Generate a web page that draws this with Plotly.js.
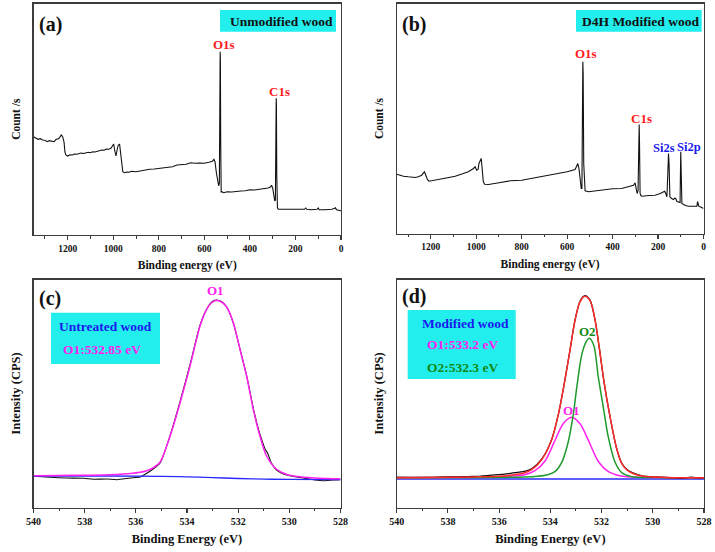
<!DOCTYPE html>
<html>
<head>
<meta charset="utf-8">
<script src="https://cdn.plot.ly/plotly-3.0.1.min.js"></script>
<style>html,body{margin:0;padding:0;background:#fff;}#chart{width:715px;height:552px;}</style>
</head>
<body>
<div id="chart"></div>
<script>
// ---------- Panel (a): survey, unmodified wood ----------
const surveyA_eV = [1350,1340,1330,1320,1310,1300,1290,1280,1270,1260,1250,1240,1235,1228,1222,1216,1212,1208,1200,1190,1180,1170,1160,1150,1140,1130,1120,1110,1100,1090,1080,1070,1060,1050,1040,1030,1020,1010,1003,998,993,988,983,978,972,968,963,958,950,940,930,920,900,880,860,840,820,800,780,760,740,720,700,680,660,640,620,600,580,565,558,553,547,541,537,534,532,530.5,529.5,528,526,523,515,500,480,460,440,420,400,380,360,340,320,310,305,300,295,291,288,286,284.5,283.5,282,279,275,260,240,220,200,180,160,155,150,130,105,100,96,70,40,28,24,20,10,0];
const surveyA_cps = [98.3,97,95.7,96.3,95,94.7,93.3,94.3,94,93.3,95.7,96.3,97.7,100,98.3,93,83,80,79,80.3,80,81,80.7,81,82,81.5,82,82.7,82.3,83.3,83,83.7,84.7,85,84.7,86,85.7,86.7,89.3,91,84,79,85,90,90.7,82,68,63.3,62.3,63,62.7,63.7,63.3,64.3,65,65.7,66,66.7,67.3,68,68.3,70,70,70.7,72.3,71.7,72,71.7,72.7,73.7,75.7,73,62,51,49,52,110,183.3,175,90,43,43.3,42.3,43.3,43,43.7,44,44.3,45.3,45,45.7,46,47,48,49.7,47,40,34,35,100,136.7,130,60,27,25.7,25.7,25.7,25.3,25.7,25.3,25.7,27,25.7,25.3,25.7,27,25.3,25.3,25.7,26.7,27.3,25.3,25,24.3];

// ---------- Panel (b): survey, D4H modified wood ----------
const surveyB_eV = [1350,1320,1299,1280,1269,1255,1240,1232,1228,1222,1215,1208,1195,1181,1150,1120,1093,1060,1035,1012,1005,998,992,988,982,978,974,969,963,946,900,850,800,750,700,653,600,565,558,553,548,542,538,535,532.5,531,529.5,527,523,521,506,450,400,360,330,308,301,296,292,288,285,283,281.5,279,275,271,240,213,190,176,171,166,161,157,154,151.5,148,140,132,127,122,117,113,106,103,101.5,100,98,95,80,66,40,29,26,23,21,10,0];
const surveyB_cps = [59.3,57.3,56.7,56,56,56.7,58.3,60.7,61.7,58.3,54,52.3,52.7,53.3,54.7,56,57.3,59.7,61.7,65,66.7,63.3,64,70,73.3,75,65,52,49.3,49,50.7,52.7,53.3,55.3,57.3,59.3,61.7,64,68,70,65,50,45,45,120,171.7,160,70,44,42.7,41.7,43.3,44.7,45,46.7,48.3,50.7,45,40,43,100,109,90,40,37.7,37.3,38,38.3,40,41.7,42.3,40,36.7,60,80,70,36.7,35,34,35.3,35,32,31.7,30.7,31,60,81.7,60,30,28,27.3,27.3,27.3,32,28.7,27.3,26.3,25];

// ---------- Panel (c): O1s, untreated wood ----------
const o1sC_raw_eV = [540,539.35,538.7,538.05,537.66,537.14,536.74,536.22,535.83,535.64,535.31,535.05,534.66,534.27,533.88,533.49,533.23,533.03,532.86,532.65,532.45,532.19,531.93,531.67,531.41,531.2,531.1,530.95,530.85,530.7,530.5,530.1,529.45,529.0,528.67,528.28,528];
const o1sC_raw_cps = [-0.3,-1.3,-2,-2.3,-3.3,-3,-3.7,-2,-1,1.7,7.3,13,40.5,74.5,111.5,151,167,174,176,174.5,169,153,127,100.5,68,46,38,27,23,13,6,1,-2,-4,-4.7,-4,-3.7];
const o1sC_fit_eV = [540,539,538,537,536.2,535.6,535.3,535.05,534.66,534.27,533.88,533.49,533.23,533.03,532.86,532.65,532.45,532.19,531.93,531.67,531.41,531.15,530.89,530.5,530.1,529.7,529,528.5,528];
const o1sC_fit_cps = [0.3,0.5,0.8,1.3,2.5,5,8.5,14,40,73.3,110,150,166.7,173.5,175.5,174,169,153.3,126.7,100,66.7,40,20,6.7,1.5,-0.5,-2,-2.5,-2.8];
const o1sC_bg_eV = [540,537,535,534,533,532,531,530,528];
const o1sC_bg_cps = [0,0,-0.3,-0.8,-1.6,-2.5,-3.1,-3.4,-3.5];

// ---------- Panel (d): O1s, modified wood ----------
const o1sD_raw_eV = [540,539,538,537,536.3,535.8,535.4,535.06,534.73,534.34,533.95,533.69,533.45,533.23,533.04,532.84,532.65,532.45,532.26,532.09,531.9,531.67,531.41,531.21,531.02,530.8,530.37,529.5,528.8,528.5,528.2,528];
const o1sD_raw_cps = [0.5,0.3,0.8,1.2,2.5,3.5,5,6,9,18.5,38,63,95,128,157,176.5,182,177.5,158.5,130,95,61,29,14.5,8.5,5,1.5,0.3,-0.5,0.5,-0.5,0];
const o1sD_env_eV = [540,539,538,537,536,535.5,535.06,534.73,534.34,533.95,533.69,533.45,533.23,533.04,532.84,532.65,532.45,532.26,532.09,531.9,531.67,531.41,531.21,531.02,530.8,530.37,529.5,528];
const o1sD_env_cps = [0,0.2,0.4,0.8,1.5,2.8,4.5,8,18,38,63,95,128,157,176,181.5,177,158.5,130,95,61,29,14,8,4.5,1.5,0.3,0];
const o1sD_O1_eV = [540,537,536,535.5,535,534.6,534.2,533.85,533.5,533.17,532.84,532.5,532.13,531.73,531.3,531,530,528];
const o1sD_O1_cps = [0,0.4,0.9,1.6,3,7,17,35.5,54,60.5,54,36.5,16.5,6,2,1,0.2,0];
const o1sD_O2_eV = [540,536,535,534.5,534.1,533.82,533.56,533.3,533.1,532.97,532.78,532.62,532.48,532.3,532.13,531.93,531.74,531.48,531.21,530.82,530,528];
const o1sD_O2_cps = [0,0.3,0.7,1.5,3,6,15,36,64,90,122,135,139.4,132,101,70,41,16,5,1,0.2,0];
const o1sD_bg_eV = [540,528];
const o1sD_bg_cps = [-1.3,-1.3];

// ---------- Labels ----------
const xTitleSurvey = 'Binding energy (eV)';
const xTitleO1s = 'Binding Energy (eV)';
const yTitleSurvey = 'Count /s';
const yTitleO1s = 'Intensity (CPS)';

// ---------- Styling helpers ----------
const W = 715, H = 552;
const px = v => v / W;
const py = v => 1 - v / H;
const SERIF = 'Liberation Serif, Times New Roman, serif';
const frame = '#3c3c3c';
const cyan = '#22eeee';
const RED = '#ff1a1a', BLUE = '#1a1aee', MAG = '#ff22ee', GREEN = '#128a12';

function xAxis(domain, range, anchor, title, dtick, minorDtick, tfs, ttfs) {
  return {
    domain: domain, range: range, anchor: anchor,
    showgrid: false, zeroline: false,
    showline: true, mirror: true, linecolor: frame, linewidth: 1.2,
    ticks: 'outside', ticklen: 4, tickwidth: 1.1, tickcolor: frame,
    dtick: dtick, tick0: 0,
    minor: {dtick: minorDtick, ticks: 'outside', ticklen: 2.5, tickwidth: 1, tickcolor: frame, showgrid: false},
    tickfont: {family: SERIF, size: tfs, color: '#111', weight: 'bold'},
    title: {text: '<b>' + title + '</b>', font: {family: SERIF, size: ttfs, color: '#111'}, standoff: 8}
  };
}
function yAxis(domain, range, anchor, title, ttfs) {
  return {
    domain: domain, range: range, anchor: anchor,
    showgrid: false, zeroline: false, showticklabels: false, ticks: '',
    showline: true, mirror: true, linecolor: frame, linewidth: 1.2,
    title: {text: '<b>' + title + '</b>', font: {family: SERIF, size: ttfs, color: '#111'}, standoff: 9}
  };
}

const traces = [
  {x: surveyA_eV, y: surveyA_cps, xaxis: 'x', yaxis: 'y', type: 'scatter', mode: 'lines', line: {color: '#111', width: 1.1}},
  {x: surveyB_eV, y: surveyB_cps, xaxis: 'x2', yaxis: 'y2', type: 'scatter', mode: 'lines', line: {color: '#111', width: 1.1}},
  {x: o1sC_raw_eV, y: o1sC_raw_cps, xaxis: 'x3', yaxis: 'y3', type: 'scatter', mode: 'lines', line: {color: '#111', width: 1.1, shape: 'spline', smoothing: 0.6}},
  {x: o1sC_bg_eV, y: o1sC_bg_cps, xaxis: 'x3', yaxis: 'y3', type: 'scatter', mode: 'lines', line: {color: '#2a2aff', width: 1.3, shape: 'spline'}},
  {x: o1sC_fit_eV, y: o1sC_fit_cps, xaxis: 'x3', yaxis: 'y3', type: 'scatter', mode: 'lines', line: {color: MAG, width: 1.5, shape: 'spline', smoothing: 0.8}},
  {x: o1sD_bg_eV, y: o1sD_bg_cps, xaxis: 'x4', yaxis: 'y4', type: 'scatter', mode: 'lines', line: {color: '#2a2aff', width: 1.4}},
  {x: o1sD_O1_eV, y: o1sD_O1_cps, xaxis: 'x4', yaxis: 'y4', type: 'scatter', mode: 'lines', line: {color: MAG, width: 1.5, shape: 'spline', smoothing: 0.8}},
  {x: o1sD_O2_eV, y: o1sD_O2_cps, xaxis: 'x4', yaxis: 'y4', type: 'scatter', mode: 'lines', line: {color: '#1f9a2c', width: 1.5, shape: 'spline', smoothing: 0.8}},
  {x: o1sD_raw_eV, y: o1sD_raw_cps, xaxis: 'x4', yaxis: 'y4', type: 'scatter', mode: 'lines', line: {color: '#111', width: 1.3, shape: 'spline', smoothing: 0.8}},
  {x: o1sD_env_eV, y: o1sD_env_cps, xaxis: 'x4', yaxis: 'y4', type: 'scatter', mode: 'lines', line: {color: '#ff2a2a', width: 1.5, shape: 'spline', smoothing: 0.8}}
];

const domA = {x: [px(33.5), px(341)], y: [py(235), py(3.5)]};
const domB = {x: [px(396.7), px(703.5)], y: [py(233.5), py(3.5)]};
const domC = {x: [px(33.5), px(340.5)], y: [py(507.5), py(279.5)]};
const domD = {x: [px(396.7), px(704)], y: [py(507.5), py(279.5)]};

function txt(text, x, y, size, color, xref, yref) {
  return {text: '<b>' + text + '</b>', x: x, y: y, xref: xref || 'paper', yref: yref || 'paper',
    showarrow: false, xanchor: 'center', yanchor: 'middle',
    font: {family: SERIF, size: size, color: color}};
}

const annotations = [
  txt('(a)', px(51), py(25), 20, '#111'),
  txt('(b)', px(414), py(25), 20, '#111'),
  txt('(c)', px(50), py(298), 20, '#111'),
  txt('(d)', px(414), py(297), 20, '#111'),
  txt('Unmodified wood', px(281), py(21), 13.5, '#111'),
  txt('D4H Modified wood', px(640), py(21), 13.5, '#111'),
  txt('Untreated wood', px(105), py(326.7), 13.5, BLUE),
  txt('O1:532.85 eV', px(101.7), py(349), 13.5, MAG),
  txt('Modified wood', px(465), py(323.3), 13.5, BLUE),
  txt('O1:533.2 eV', px(462), py(344.3), 13.5, MAG),
  txt('O2:532.3 eV', px(462), py(367.7), 13.5, GREEN),
  txt('O1s', 514, 190, 13, RED, 'x', 'y'),
  txt('C1s', 268, 143, 13, RED, 'x', 'y'),
  txt('O1s', 517, 180.3, 13, RED, 'x2', 'y2'),
  txt('C1s', 275, 115.3, 13, RED, 'x2', 'y2'),
  txt('Si2s', 174, 85.3, 12.5, BLUE, 'x2', 'y2'),
  txt('Si2p', 64, 86.3, 12.5, BLUE, 'x2', 'y2'),
  txt('O1', 532.87, 186, 13, MAG, 'x3', 'y3'),
  txt('O2', 532.55, 146, 13, GREEN, 'x4', 'y4'),
  txt('O1', 533.19, 67.7, 13, MAG, 'x4', 'y4')
];

function box(x0, y0, x1, y1) {
  return {type: 'rect', xref: 'paper', yref: 'paper', x0: px(x0), x1: px(x1), y0: py(y1), y1: py(y0),
    fillcolor: cyan, line: {width: 0}, layer: 'above'};
}
const shapes = [
  box(220, 10, 336, 31.7),
  box(576, 10, 701.7, 31.7),
  box(51, 312.7, 160, 364),
  box(407.7, 310, 515.7, 379)
];

const layout = {
  width: W, height: H,
  margin: {l: 0, r: 0, t: 0, b: 0},
  paper_bgcolor: '#ffffff', plot_bgcolor: '#ffffff',
  showlegend: false,
  xaxis: xAxis(domA.x, [1350, 0], 'y', xTitleSurvey, 200, 100, 9.5, 11.5),
  yaxis: yAxis(domA.y, [0, 231.5], 'x', yTitleSurvey, 11.5),
  xaxis2: xAxis(domB.x, [1350, 0], 'y2', xTitleSurvey, 200, 100, 9.5, 11.5),
  yaxis2: yAxis(domB.y, [0, 230], 'x2', yTitleSurvey, 11.5),
  xaxis3: xAxis(domC.x, [540, 528], 'y3', xTitleO1s, 2, 1, 10, 12.5),
  yaxis3: yAxis(domC.y, [-31.5, 196.5], 'x3', yTitleO1s, 12.5),
  xaxis4: xAxis(domD.x, [540, 528], 'y4', xTitleO1s, 2, 1, 10, 12.5),
  yaxis4: yAxis(domD.y, [-29.8, 198.2], 'x4', yTitleO1s, 12.5),
  annotations: annotations,
  shapes: shapes
};

Plotly.newPlot('chart', traces, layout, {displayModeBar: false, staticPlot: true});
</script>
</body>
</html>
